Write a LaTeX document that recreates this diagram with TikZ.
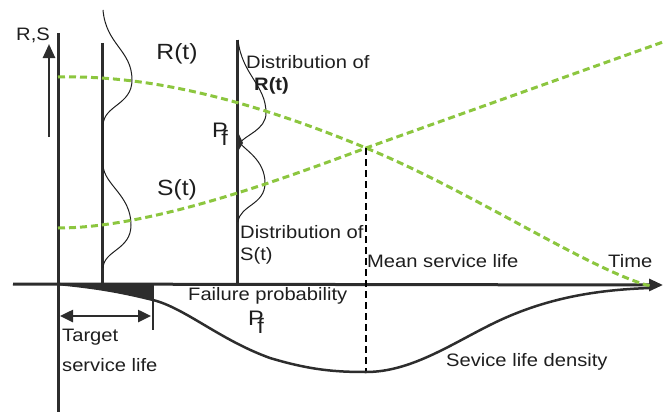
\documentclass[tikz,border=0pt]{standalone}
\usepackage{fontspec}
\setmainfont{Liberation Sans}[FakeStretch=1.12]
\usetikzlibrary{arrows.meta}
\definecolor{dgreen}{RGB}{140,198,63}
\definecolor{ink}{RGB}{30,30,30}
\definecolor{axisgray}{RGB}{45,45,45}
\tikzset{
  lbl/.style={inner sep=0pt, text=ink, font=\fontsize{18}{20}\selectfont},
  biglbl/.style={inner sep=0pt, text=ink, font=\fontsize{22}{24}\selectfont},
  pflbl/.style={inner sep=0pt, text=ink, font=\fontsize{21}{23}\selectfont},
  meancurve/.style={dgreen, line width=3pt, dash pattern=on 7pt off 4pt},
  thinline/.style={ink, line width=1pt},
  axisline/.style={axisgray, line width=3pt},
  densline/.style={axisgray, line width=2.5pt},
  tri/.style={-{Triangle[length=14pt,width=12pt]}},
}
\newcommand{\Pf}{P\kern-6.5pt\raisebox{-8pt}{f}}
\begin{document}
\begin{tikzpicture}[x=1pt,y=-1pt]
\useasboundingbox (0,0) rectangle (663,412);
% coordinates
\coordinate (ax0) at (58,33);
\coordinate (ax1) at (58,412);
\coordinate (t0) at (13,284);
\coordinate (t1) at (663,285);
\coordinate (cross) at (366,148);
\coordinate (crossfoot) at (366,372);
% axes
\draw[axisline] (ax0) -- (ax1);
\draw[axisline, tri] (t0) -- (t1);
\coordinate (ua0) at (49,137);
\coordinate (ua1) at (49,44);
\draw[axisgray, line width=2.5pt, tri] (ua0) -- (ua1);
% distribution lines
\draw[axisline] (102,43) -- (102,284);
\draw[axisline] (237,40) -- (237,284);
% distribution curves
\draw[thinline] (103,10) .. controls (106,45) and (132,50) .. (132,80)
  .. controls (132,105) and (104,105) .. (103,125) -- (103,165)
  .. controls (104,185) and (131,195) .. (131,225)
  .. controls (131,250) and (104,250) .. (103,268);
\draw[thinline] (238,40) .. controls (242,75) and (266,85) .. (266,113)
  .. controls (266,130) and (245,135) .. (240,143)
  .. controls (245,150) and (265,160) .. (265,183)
  .. controls (265,205) and (240,205) .. (238,222);
\fill[axisgray] (237,130) -- (243,143) -- (237,153) -- cycle;
% mean curves
\draw[meancurve] (58,77) .. controls (150,75) and (250,100) .. (cross)
  .. controls (467,189) and (590,270) .. (650,286);
\draw[meancurve] (58,228) .. controls (150,228) and (280,180) .. (cross) -- (663,42);
% mean service life
\draw[black, line width=2.5pt, dash pattern=on 7pt off 4pt] (cross) -- (crossfoot);
% density
\fill[axisgray] (58,284) -- (153,284) -- (153,300) .. controls (130,295) and (100,288) .. (58,284) -- cycle;
\draw[densline] (58,284) .. controls (100,288) and (125,293) .. (153,300)
  .. controls (185,308) and (220,340) .. (270,358)
  .. controls (310,370) and (335,372) .. (crossfoot)
  .. controls (410,372) and (450,345) .. (490,325)
  .. controls (540,300) and (590,290) .. (650,288);
\draw[axisgray, line width=2pt] (153,284) -- (153,330);
% target service life arrow
\coordinate (ts0) at (60,316);
\coordinate (ts1) at (151,316);
\draw[axisgray, line width=2.5pt, {Triangle[length=13pt,width=12pt]}-{Triangle[length=13pt,width=12pt]}] (ts0) -- (ts1);
% labels
\node[lbl] (rs) at (33,35) {R,S};
\node[biglbl] (rt) at (177,54) {R(t)};
\node[biglbl] (st) at (177,190) {S(t)};
\node[lbl, anchor=west] (dr) at (246,62) {Distribution of};
\node[lbl, anchor=west, font=\fontsize{18}{20}\selectfont\bfseries] (drt) at (254,86) {R(t)};
\node[pflbl, anchor=base west] (pf1) at (212,137) {\Pf};
\node[lbl, anchor=west] (ds) at (240,232) {Distribution of};
\node[lbl, anchor=west] (dst) at (240,256) {S(t)};
\node[lbl, anchor=west] (fp) at (188,296) {Failure probability};
\node[pflbl, anchor=base west] (pf2) at (248,325) {\Pf};
\node[lbl, anchor=west] (tg) at (62,337) {Target};
\node[lbl, anchor=west] (tsl) at (62,365) {service life};
\node[lbl, anchor=west] (msl) at (367,261) {Mean service life};
\node[lbl, anchor=west] (tm) at (608,261) {Time};
\node[lbl, anchor=west] (sld) at (446,362) {Sevice life density};
\end{tikzpicture}
\end{document}
